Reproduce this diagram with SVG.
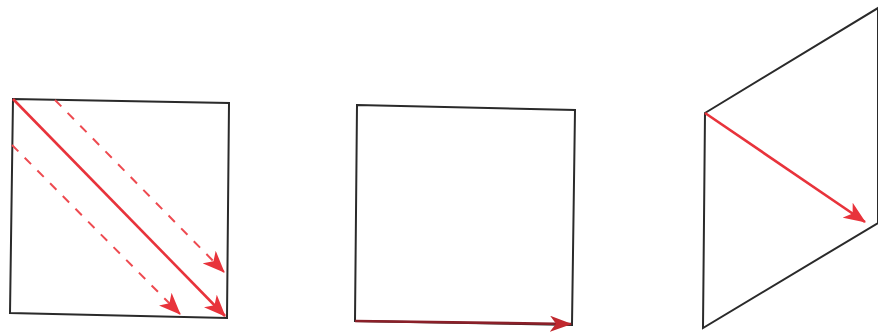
<svg xmlns="http://www.w3.org/2000/svg" width="878" height="335" viewBox="0 0 878 335">
<style>
.frame{fill:none;stroke:#2a2a2a;stroke-width:2;stroke-linejoin:miter}
.red{fill:none;stroke:#e8333b;stroke-width:2.6}
.dash{fill:none;stroke:#ee4a50;stroke-width:2;stroke-dasharray:9 9}
</style>
<defs>
<marker id="ah" markerWidth="10" markerHeight="10" refX="9" refY="5" orient="auto" markerUnits="userSpaceOnUse" viewBox="0 0 10 10">
<path d="M0,0 L10,5 L0,10 L3,5 Z" fill="#e8333b"/>
</marker>
<marker id="ahBig" markerWidth="22" markerHeight="18" refX="21" refY="9" orient="auto" markerUnits="userSpaceOnUse" viewBox="0 0 22 18">
<path d="M0,0 L22,9 L0,18 L6,9 Z" fill="#e8333b"/>
</marker>
<marker id="ahDark" markerWidth="22" markerHeight="16" refX="21" refY="8" orient="auto" markerUnits="userSpaceOnUse" viewBox="0 0 22 16">
<path d="M0,0 L22,8 L0,16 L6,8 Z" fill="#c0282e"/>
</marker>
</defs>
<rect width="878" height="335" fill="#ffffff"/>
<g id="square1">
<path class="frame" d="M13,99 L229,103 L227,318 L10,313 Z"/>
</g>
<g id="square2">
<path class="frame" d="M357,105 L575,110 L572,325 L355,321 Z"/>
</g>
<g id="parallelogram">
<path class="frame" d="M705,113 L878,8 L878,223 L703,328 Z"/>
</g>
<g id="connectors">
<path class="red" d="M13,99 L225,316" marker-end="url(#ahBig)"/>
<path class="dash" d="M55,100 L224,272" marker-end="url(#ahBig)"/>
<path class="dash" d="M12,145 L180,314" marker-end="url(#ahBig)"/>
<path d="M355,321 L571,324" fill="none" stroke="#8a1f28" stroke-width="2.6" marker-end="url(#ahDark)"/>
<path class="red" d="M705,113 L865,222" marker-end="url(#ahBig)"/>
</g>
</svg>
